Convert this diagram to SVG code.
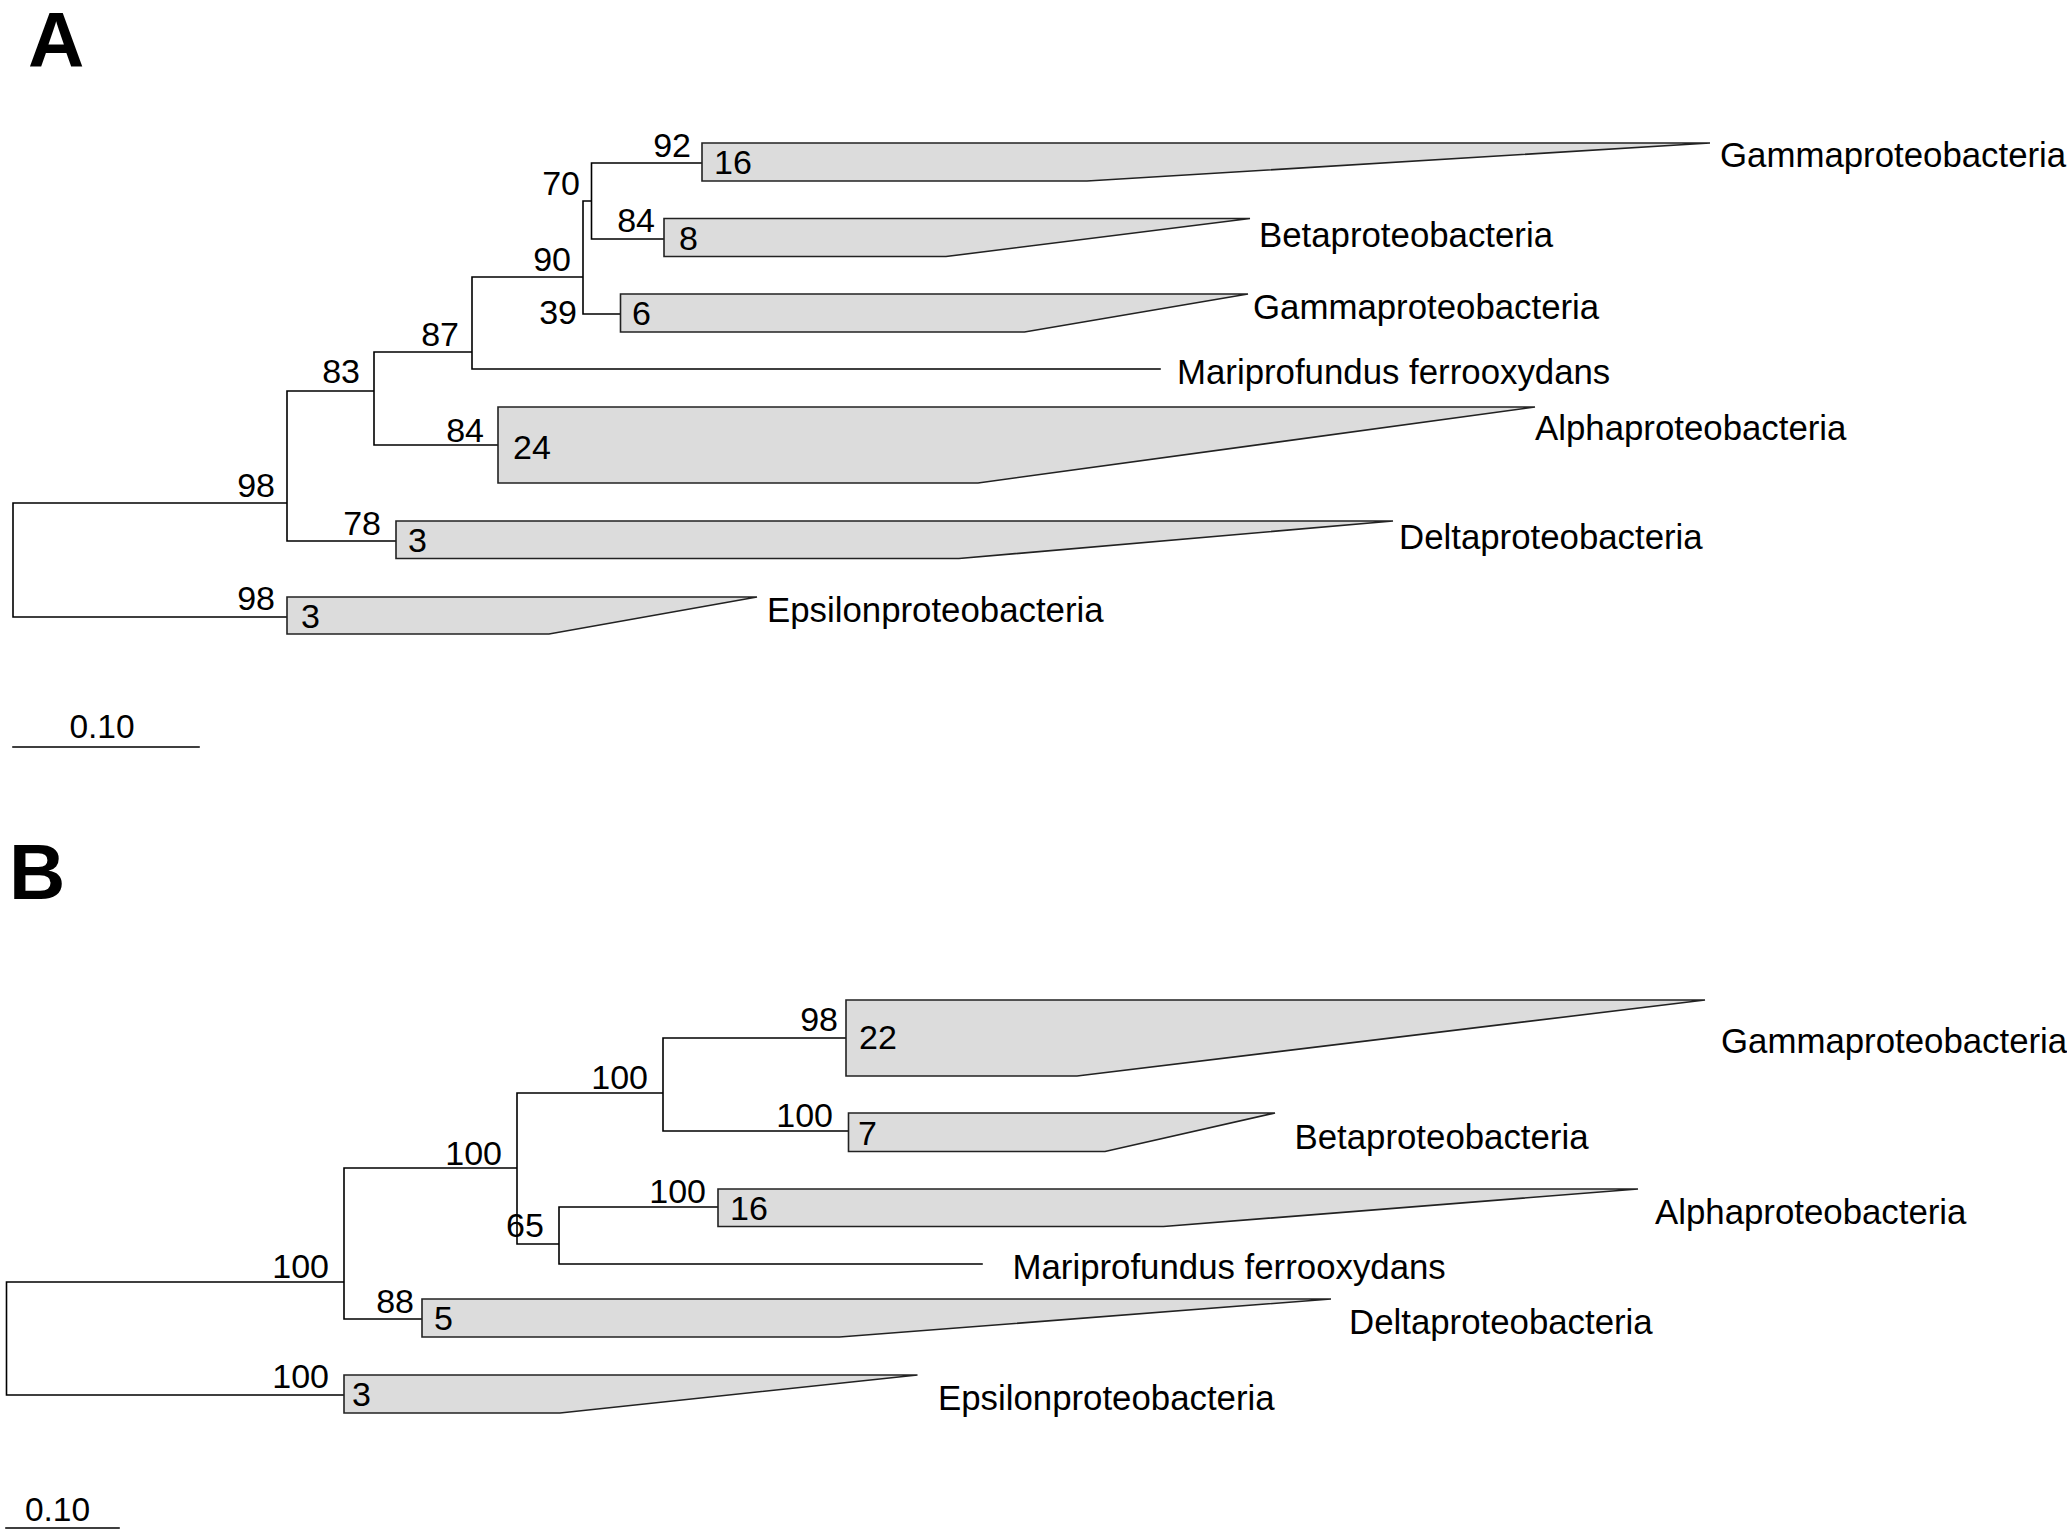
<svg xmlns="http://www.w3.org/2000/svg" width="2067" height="1530" viewBox="0 0 2067 1530">
<style>
.br{fill:none;stroke:#000;stroke-width:1.6;stroke-linecap:square}
.cl{fill:#dcdcdc;stroke:#222;stroke-width:1.6;stroke-linejoin:miter}
text{font-family:"Liberation Sans",Arial,Helvetica,sans-serif;fill:#000}
.lb{font-size:34.8px}
.bs{font-size:34px;text-anchor:end}
.n{font-size:34px}
.pn{font-size:78px;font-weight:bold}
.sc{font-size:33.5px;text-anchor:middle}
</style>
<rect width="2067" height="1530" fill="#fff"/>
<text class="pn" x="28" y="67">A</text>
<text class="pn" x="9" y="899">B</text>

<g id="connectors">
<path class="br" d="M13,503V617M13,503H287M13,617H287M287,391V541M287,391H374M287,541H396M374,352V445M374,352H472M374,445H498M472,277V369M472,277H583M472,369H1160M583,201V314M583,201H591.5M583,314H620.5M591.5,163V239M591.5,163H702M591.5,239H664"/>
<path class="br" d="M6.5,1282V1395M6.5,1282H344M6.5,1395H344M344,1168V1319M344,1168H517M344,1319H422M517,1093V1244M517,1093H663M517,1244H559M663,1038V1131M663,1038H846M663,1131H848.5M559,1207V1264M559,1207H718M559,1264H982"/>
<path class="br" d="M13,747H199M6,1528H119"/>
</g>

<g id="A-gamma16"><polygon class="cl" points="702,143 1710,143 1087,181 702,181"/><text class="n" x="714" y="174">16</text><text class="lb" x="1720" y="167">Gammaproteobacteria</text></g>
<g id="A-beta8"><polygon class="cl" points="664,218.5 1250,218.5 946,256.5 664,256.5"/><text class="n" x="679" y="250">8</text><text class="lb" x="1259" y="247">Betaproteobacteria</text></g>
<g id="A-gamma6"><polygon class="cl" points="620.5,294 1248,294 1024.5,332 620.5,332"/><text class="n" x="632" y="325">6</text><text class="lb" x="1253" y="319">Gammaproteobacteria</text></g>
<g id="A-mari"><text class="lb" x="1177" y="384">Mariprofundus ferrooxydans</text></g>
<g id="A-alpha24"><polygon class="cl" points="498,407 1535,407 978,483 498,483"/><text class="n" x="513" y="459">24</text><text class="lb" x="1535" y="440">Alphaproteobacteria</text></g>
<g id="A-delta3"><polygon class="cl" points="396,521 1393,521 959,558.5 396,558.5"/><text class="n" x="408" y="552">3</text><text class="lb" x="1399" y="549">Deltaproteobacteria</text></g>
<g id="A-eps3"><polygon class="cl" points="287,597 757,597 549,634 287,634"/><text class="n" x="301" y="628">3</text><text class="lb" x="767" y="622">Epsilonproteobacteria</text></g>

<g id="A-support">
<text class="bs" x="691" y="157">92</text>
<text class="bs" x="580" y="195">70</text>
<text class="bs" x="655" y="232">84</text>
<text class="bs" x="571" y="271">90</text>
<text class="bs" x="577" y="324">39</text>
<text class="bs" x="459" y="346">87</text>
<text class="bs" x="360" y="383">83</text>
<text class="bs" x="484" y="442">84</text>
<text class="bs" x="275" y="497">98</text>
<text class="bs" x="381" y="535">78</text>
<text class="bs" x="275" y="610">98</text>
</g>
<g id="A-scale"><text class="sc" x="102" y="738">0.10</text></g>

<g id="B-gamma22"><polygon class="cl" points="846,1000 1705,1000 1077,1076 846,1076"/><text class="n" x="859" y="1049">22</text><text class="lb" x="1721" y="1053">Gammaproteobacteria</text></g>
<g id="B-beta7"><polygon class="cl" points="848.5,1113 1275,1113 1105,1151.5 848.5,1151.5"/><text class="n" x="858" y="1145">7</text><text class="lb" x="1294.5" y="1149">Betaproteobacteria</text></g>
<g id="B-alpha16"><polygon class="cl" points="718,1189 1638,1189 1163.5,1226.5 718,1226.5"/><text class="n" x="730" y="1220">16</text><text class="lb" x="1655" y="1224">Alphaproteobacteria</text></g>
<g id="B-mari"><text class="lb" x="1012.5" y="1279">Mariprofundus ferrooxydans</text></g>
<g id="B-delta5"><polygon class="cl" points="422,1299 1331,1299 839.5,1337 422,1337"/><text class="n" x="434" y="1330">5</text><text class="lb" x="1349" y="1334">Deltaproteobacteria</text></g>
<g id="B-eps3"><polygon class="cl" points="344,1375 917.5,1375 560,1413 344,1413"/><text class="n" x="352" y="1406">3</text><text class="lb" x="938" y="1410">Epsilonproteobacteria</text></g>

<g id="B-support">
<text class="bs" x="838" y="1031">98</text>
<text class="bs" x="648" y="1089">100</text>
<text class="bs" x="833" y="1127">100</text>
<text class="bs" x="502" y="1165">100</text>
<text class="bs" x="706" y="1203">100</text>
<text class="n" x="506" y="1237">65</text>
<text class="bs" x="329" y="1278">100</text>
<text class="bs" x="414" y="1313">88</text>
<text class="bs" x="329" y="1388">100</text>
</g>
<g id="B-scale"><text class="sc" x="57.5" y="1521">0.10</text></g>
</svg>
